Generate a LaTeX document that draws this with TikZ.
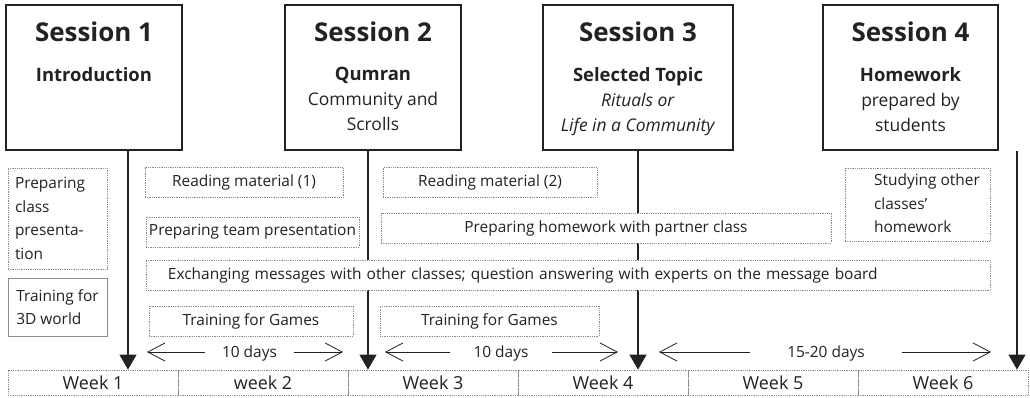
\documentclass[tikz,border=0pt]{standalone}
\usepackage{fontspec}
\setmainfont{Open Sans}
\usetikzlibrary{arrows.meta,positioning}
\definecolor{ink}{HTML}{222222}
\definecolor{frame}{HTML}{8C8C8C}
\newcommand{\subhead}[1]{{\fontsize{18.5}{25}\selectfont\bfseries #1}}

\begin{document}
\begin{tikzpicture}[x=1bp,y=-1bp,
    sessbox/.style={draw=ink,line width=1.8bp,minimum width=#1,minimum height=145bp,inner sep=0pt},
    sesshead/.style={font=\fontsize{26}{28}\selectfont\bfseries,text=ink,inner sep=0pt},
    sessbody/.style={font=\fontsize{17.5}{25}\selectfont,text=ink,align=center,inner sep=0pt,anchor=north},
    task/.style={draw=frame,densely dotted,line width=0.8bp,fill=white,text=ink,font=\fontsize{15.5}{23.5}\selectfont,align=left,inner sep=0pt,minimum height=30bp},
    timeline/.style={draw=ink,line width=1.1bp,-{Triangle[length=15bp,width=17bp]}},
    weekcell/.style={draw=frame,densely dotted,line width=0.8bp,minimum width=170bp,minimum height=25bp,inner sep=0pt,font=\fontsize{18}{20}\selectfont,text=ink},
    span/.style={font=\fontsize{15.5}{18}\selectfont,text=ink,inner ysep=0pt},
    spanarrow/.style={draw=ink,line width=0.8bp,-{Straight Barb[length=17bp,width=18bp]}}]
\useasboundingbox (0,0) rectangle (1030,397);

\node[sessbox=176bp] (s1) at (94,77.5) {};
\node[sessbox=176bp] (s2) at (373,77.5) {};
\node[sessbox=190bp] (s3) at (638,77.5) {};
\node[sessbox=175bp] (s4) at (910.5,77.5) {};

\node[sesshead] (h1) at ([yshift=-27.5bp]s1.north) {Session 1};
\node[sesshead] (h2) at ([yshift=-27.5bp]s2.north) {Session 2};
\node[sesshead] (h3) at ([yshift=-27.5bp]s3.north) {Session 3};
\node[sesshead] (h4) at ([yshift=-27.5bp]s4.north) {Session 4};

\node[sessbody] (b1) at ([yshift=-63bp]s1.north) {\subhead{Introduction}};
\node[sessbody] (b2) at ([yshift=-63bp]s2.north) {\subhead{Qumran}\\Community and\\Scrolls};
\node[sessbody] (b3) at ([yshift=-63bp]s3.north) {\subhead{Selected Topic}\\\textit{Rituals or}\\\textit{Life in a Community}};
\node[sessbody] (b4) at ([yshift=-63bp]s4.north) {\subhead{Homework}\\prepared by\\students};

\foreach \i/\lab in {1/Week 1,2/week 2,3/Week 3,4/Week 4,5/Week 5,6/Week 6}
    \node[weekcell] (w\i) at ({170*\i-77},382.5) {\lab};

\coordinate (x1) at (128,0);
\coordinate (x2) at (368,0);
\coordinate (x4) at (1017,0);
\draw[timeline] (s1.south -| x1) -- (x1 |- w1.north);
\draw[timeline] (s2.south -| x2) -- (x2 |- w3.north);
\draw[timeline] (s3.south) -- (s3.south |- w4.north);
\draw[timeline] (s4.south -| x4) -- (x4 |- w6.north);

\node[task,text width=85bp,inner xsep=7bp,minimum height=101bp] (prep) at (57.5,218.5) {Preparing\\class\\presenta-\\tion};
\node[task,solid,minimum width=99bp,minimum height=58bp] (train3d) at (57.5,307) {Training for\\3D world};
\node[task,minimum width=198bp] (read1) at (244,182.5) {Reading material (1)};
\node[task,minimum width=214bp] (read2) at (490,182.5) {Reading material (2)};
\node[task,minimum width=213bp] (team) at (252.5,232) {Preparing team presentation};
\node[task,minimum width=450bp] (hw) at (606,228) {Preparing homework with partner class};
\node[task,minimum width=145bp,minimum height=73bp] (study) at (917.5,204.5) {\hspace*{19bp}\begin{tabular}{@{}l@{}}Studying other\\classes'\\homework\end{tabular}};
\node[task,text width=800bp,inner xsep=22bp] (msg) at (568,275) {Exchanging messages with other classes; question answering with experts on the message board};
\node[task,minimum width=204bp] (games1) at (251,321) {Training for Games};
\node[task,minimum width=219bp] (games2) at (489.5,321) {Training for Games};

\foreach \n/\a/\m/\b/\g/\lab in {1/147/249.5/343/17/10 days,2/385/501/618/23/10 days,3/659/826/991/37/15-20 days}{
    \node[span,inner xsep=\g bp] (d\n) at (\m,353) {\lab};
    \coordinate (dl\n) at (\a,352);
    \coordinate (dr\n) at (\b,352);
    \draw[spanarrow] (dl\n -| d\n.west) -- (dl\n);
    \draw[spanarrow] (dr\n -| d\n.east) -- (dr\n);
}
\end{tikzpicture}
\end{document}
